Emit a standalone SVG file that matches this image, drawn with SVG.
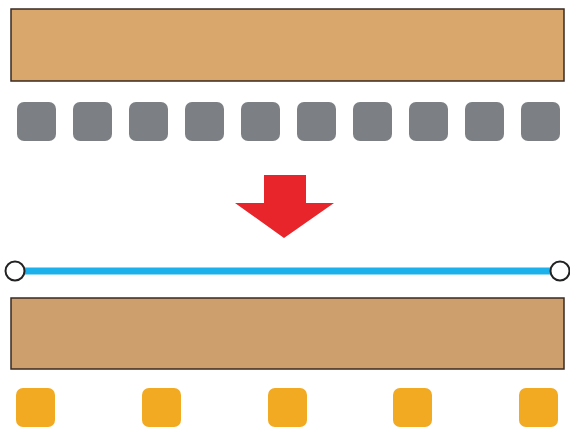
<svg xmlns="http://www.w3.org/2000/svg" width="570" height="430" viewBox="0 0 570 430">
<style>
.board{stroke:#3a2a22;stroke-width:1.5}
.gray{fill:#7c8084}
.orange{fill:#f1aa22}
.end{fill:#fff;stroke:#222;stroke-width:2}
</style>
<rect width="570" height="430" fill="#fff"/>
<g id="top-board"><rect class="board" x="11" y="9" width="553" height="72" fill="#d9a66c"/></g>
<g id="gray-pads">
<rect class="gray" x="17" y="102" width="39" height="39" rx="7"/>
<rect class="gray" x="73" y="102" width="39" height="39" rx="7"/>
<rect class="gray" x="129" y="102" width="39" height="39" rx="7"/>
<rect class="gray" x="185" y="102" width="39" height="39" rx="7"/>
<rect class="gray" x="241" y="102" width="39" height="39" rx="7"/>
<rect class="gray" x="297" y="102" width="39" height="39" rx="7"/>
<rect class="gray" x="353" y="102" width="39" height="39" rx="7"/>
<rect class="gray" x="409" y="102" width="39" height="39" rx="7"/>
<rect class="gray" x="465" y="102" width="39" height="39" rx="7"/>
<rect class="gray" x="521" y="102" width="39" height="39" rx="7"/>
</g>
<g id="arrow"><polygon points="264,175 306,175 306,203 334,203 284,238 235,203 264,203" fill="#e8252b"/></g>
<g id="connectors">
<line x1="15" y1="271" x2="560" y2="271" stroke="#1cb1ea" stroke-width="7"/>
</g>
<g id="ends">
<circle class="end" cx="15" cy="271" r="9.5"/>
<circle class="end" cx="560" cy="271" r="9.5"/>
</g>
<g id="bottom-board"><rect class="board" x="11" y="298" width="553" height="71" fill="#cc9f6d"/></g>
<g id="orange-pads">
<rect class="orange" x="16" y="388" width="39" height="39" rx="7"/>
<rect class="orange" x="142" y="388" width="39" height="39" rx="7"/>
<rect class="orange" x="268" y="388" width="39" height="39" rx="7"/>
<rect class="orange" x="393" y="388" width="39" height="39" rx="7"/>
<rect class="orange" x="519" y="388" width="39" height="39" rx="7"/>
</g>
</svg>
